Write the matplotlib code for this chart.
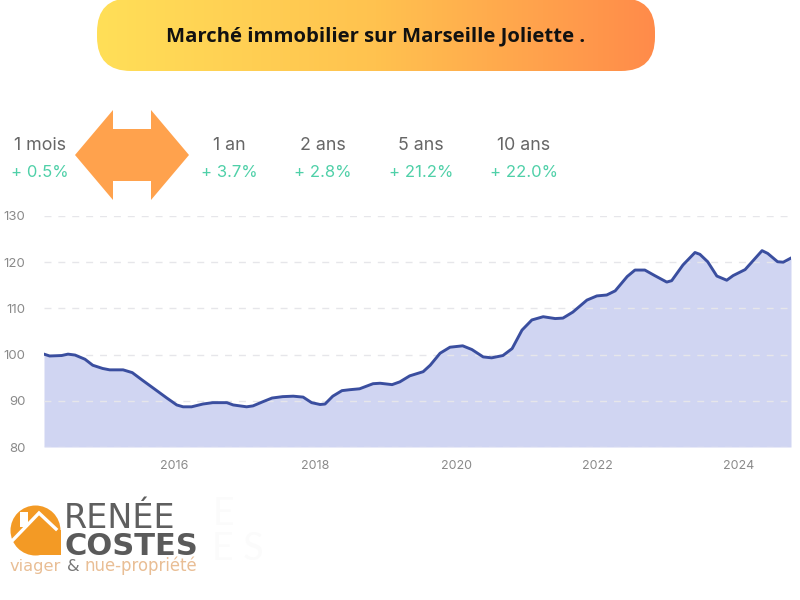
import matplotlib
matplotlib.use("Agg")
import matplotlib.pyplot as plt
import numpy as np
from matplotlib.colors import LinearSegmentedColormap
from matplotlib.patches import FancyBboxPatch, Polygon, Circle, Rectangle

# values
years = [2014.16, 2014.24, 2014.41, 2014.50, 2014.60, 2014.74, 2014.85, 2014.99, 2015.09, 2015.28,
         2015.41, 2015.55, 2015.73, 2015.90, 2016.04, 2016.13, 2016.25, 2016.41, 2016.55, 2016.75,
         2016.84, 2017.03, 2017.12, 2017.26, 2017.39, 2017.54, 2017.69, 2017.83, 2017.95, 2018.07,
         2018.14, 2018.25, 2018.38, 2018.49, 2018.63, 2018.82, 2018.92, 2019.09, 2019.20, 2019.34,
         2019.53, 2019.63, 2019.77, 2019.91, 2020.09, 2020.22, 2020.38, 2020.50, 2020.66, 2020.79,
         2020.93, 2021.07, 2021.23, 2021.40, 2021.51, 2021.65, 2021.85, 2021.99, 2022.13, 2022.25,
         2022.42, 2022.53, 2022.67, 2022.81, 2022.98, 2023.05, 2023.21, 2023.38, 2023.45, 2023.56,
         2023.69, 2023.83, 2023.92, 2024.09, 2024.33, 2024.41, 2024.55, 2024.63, 2024.74]
index_values = [100.1, 99.7, 99.8, 100.1, 99.9, 99.0, 97.7, 97.0, 96.7, 96.7,
                96.1, 94.5, 92.5, 90.6, 89.1, 88.7, 88.7, 89.3, 89.6, 89.6,
                89.1, 88.7, 88.9, 89.8, 90.6, 90.9, 91.0, 90.8, 89.6, 89.2,
                89.3, 91.0, 92.2, 92.4, 92.6, 93.7, 93.8, 93.5, 94.1, 95.4,
                96.3, 97.7, 100.3, 101.6, 101.9, 101.1, 99.5, 99.3, 99.8, 101.3,
                105.3, 107.5, 108.2, 107.8, 107.9, 109.2, 111.8, 112.7, 112.9, 113.8,
                116.9, 118.3, 118.3, 117.1, 115.7, 116.0, 119.4, 122.1, 121.7, 120.1,
                117.0, 116.1, 117.1, 118.4, 122.5, 121.9, 120.1, 120.0, 120.9]

x_ticks = [2016, 2018, 2020, 2022, 2024]
y_ticks = [80, 90, 100, 110, 120, 130]
periods = ["1 mois", "1 an", "2 ans", "5 ans", "10 ans"]
changes = ["+ 0.5%", "+ 3.7%", "+ 2.8%", "+ 21.2%", "+ 22.0%"]
period_x = [40, 229, 323, 421, 524]

plt.rcParams['font.family'] = ['Inter', 'DejaVu Sans']

fig = plt.figure(figsize=(8, 6), dpi=100)

# overlay in pixel coordinates for banner, arrow, stats and logo
bg = fig.add_axes([0, 0, 1, 1])
bg.set_xlim(0, 800)
bg.set_ylim(600, 0)
bg.axis('off')

# Chart
ax = fig.add_axes([44 / 800, 1 - 447 / 600, 747 / 800, 231 / 600])
ax.patch.set_alpha(0)
ax.fill_between(years, index_values, 80, color='#D0D5F2', lw=0, zorder=1)
ax.plot(years, index_values, color='#3A4E9F', lw=2.1, zorder=3, solid_joinstyle='round')
ax.set_xlim(years[0], years[-1])
ax.set_ylim(80, 130)
ax.set_xticks(x_ticks)
ax.set_yticks(y_ticks)
ax.tick_params(length=0, labelcolor='#8a8a8a')
ax.tick_params(axis='x', pad=9.5, labelsize=9)
ax.tick_params(axis='y', pad=13.5, labelsize=9.5)
ax.grid(axis='y', color='#E6E6EA', lw=1, dashes=(5, 5), zorder=2)
for spine in ax.spines.values():
    spine.set_visible(False)

# Banner
cmap = LinearSegmentedColormap.from_list('banner', ['#FFDF58', '#FFC24F', '#FF8B4A'])
banner = FancyBboxPatch((97, -2), 558, 73, boxstyle='round,pad=0,rounding_size=34', fc='none', ec='none')
bg.add_patch(banner)
im = bg.imshow(np.linspace(0, 1, 256).reshape(1, -1), cmap=cmap, extent=(97, 655, 71, -2), aspect='auto')
im.set_clip_path(banner)
bg.set_xlim(0, 800)
bg.set_ylim(600, 0)
bg.text(376, 36, "Marché immobilier sur Marseille Joliette .", ha='center', va='center',
        fontsize=14.6, fontweight='bold', family=['Open Sans', 'DejaVu Sans'], color='#111111')

# Double arrow
bg.add_patch(Polygon([(75, 155), (113, 110), (113, 129), (151, 129), (151, 110), (189, 155),
                      (151, 200), (151, 181), (113, 181), (113, 200)], closed=True, fc='#FFA24D', ec='none'))

# Stats
for x, period, change in zip(period_x, periods, changes):
    bg.text(x, 145, period, ha='center', va='center', fontsize=12.8, color='#666666')
    bg.text(x, 172.5, change, ha='center', va='center', fontsize=12, color='#4FD0A8')

# Logo
orange = '#F39A25'
tan = '#E9BE95'
bg.add_patch(Circle((35.5, 530.5), 25, fc=orange, ec='none'))
bg.add_patch(Rectangle((36, 530), 25, 25, fc=orange, ec='none'))
bg.add_patch(Rectangle((20, 512), 8, 15, fc='white', ec='none'))
bg.plot([12, 39, 56], [541, 513, 529], color='white', lw=2.4, solid_joinstyle='miter')
bg.text(64, 527.5, "RENÉE", ha='left', va='baseline', fontsize=24, color='#5f5f5f', family='DejaVu Sans')
bg.text(64, 555, "COSTES", ha='left', va='baseline', fontsize=22, fontweight='bold', color='#5a5a5a',
        family='DejaVu Sans')
bg.text(10, 571, "viager", ha='left', va='baseline', fontsize=11.7, color=tan, family='DejaVu Sans')
bg.text(67, 571, "&", ha='left', va='baseline', fontsize=11.7, color='#777777', family='DejaVu Sans')
bg.text(84, 571, "nue-propriété", ha='left', va='baseline', fontsize=11.9, color=tan, family='DejaVu Sans')

# faint ghost letters behind the logo
bg.text(213, 525, "E", fontsize=27, color='#FBFBFB', family=['Lato', 'DejaVu Sans'])
bg.text(212, 560, "E S", fontsize=27, color='#FBFBFB', family=['Lato', 'DejaVu Sans'])

fig.savefig("out.png", dpi=100)
plt.close(fig)
